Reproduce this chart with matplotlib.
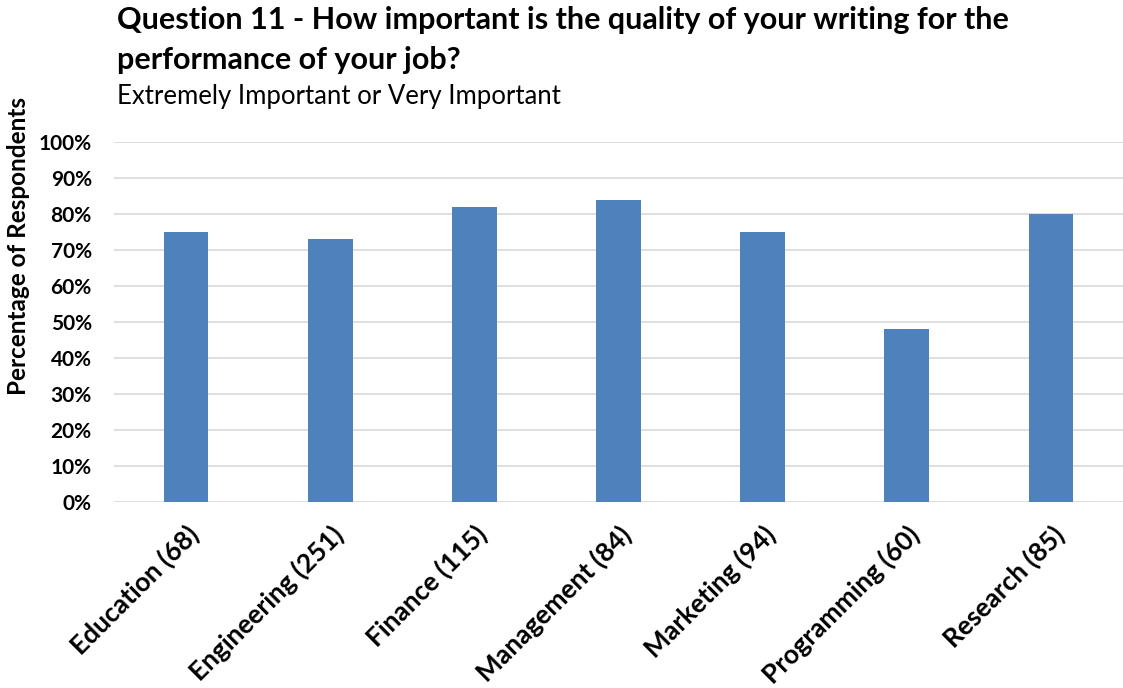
import matplotlib.pyplot as plt
from matplotlib.ticker import PercentFormatter
from matplotlib.transforms import ScaledTranslation

plt.rcParams['font.family'] = ['Lato', 'DejaVu Sans']

categorias = ['Education (68)', 'Engineering (251)', 'Finance (115)', 'Management (84)',
              'Marketing (94)', 'Programming (60)', 'Research (85)']
porcentajes = [0.75, 0.73, 0.82, 0.84, 0.75, 0.48, 0.80]
ticks_y = [0.0, 0.1, 0.2, 0.3, 0.4, 0.5, 0.6, 0.7, 0.8, 0.9, 1.0]

fig = plt.figure(figsize=(11.23, 6.88), dpi=100)
ax = fig.add_axes([114 / 1123, 1 - 502 / 688, 1009 / 1123, 360 / 688])

x = range(len(categorias))
ax.bar(x, porcentajes, width=0.31, color='#4f81bd', zorder=3)

ax.set_xlim(-0.5, len(categorias) - 0.5)
ax.set_ylim(0, 1)
ax.set_yticks(ticks_y)
ax.yaxis.set_major_formatter(PercentFormatter(1.0, decimals=0))
ax.grid(axis='y', color='#d9d9d9', linewidth=1.2, zorder=0)
ax.set_xticks(list(x))
ax.set_xticklabels(categorias, rotation=45, ha='right', rotation_mode='anchor',
                   fontsize=19, fontweight='bold')
# correr un poco las etiquetas a la derecha
for lbl in ax.get_xticklabels():
    lbl.set_transform(lbl.get_transform() + ScaledTranslation(6 / 100, 0, fig.dpi_scale_trans))
for lbl in ax.get_yticklabels():
    lbl.set_fontweight('bold')
    lbl.set_fontsize(15)
ax.tick_params(length=0)
ax.tick_params(axis='x', pad=14)
ax.tick_params(axis='y', pad=16)
for s in ax.spines.values():
    s.set_visible(False)

ax.set_ylabel('Percentage of Respondents', fontsize=17.5, fontweight='bold')
ax.yaxis.set_label_coords(-0.083, 0.71)

fig.text(117 / 1123, 1 - 29 / 688,
         'Question 11 - How important is the quality of your writing for the',
         fontsize=22, fontweight='bold', ha='left', va='baseline')
fig.text(117 / 1123, 1 - 69 / 688, 'performance of your job?',
         fontsize=22, fontweight='bold', ha='left', va='baseline')
fig.text(117 / 1123, 1 - 104 / 688, 'Extremely Important or Very Important',
         fontsize=18.5, ha='left', va='baseline')

plt.savefig('out.png', dpi=100)
